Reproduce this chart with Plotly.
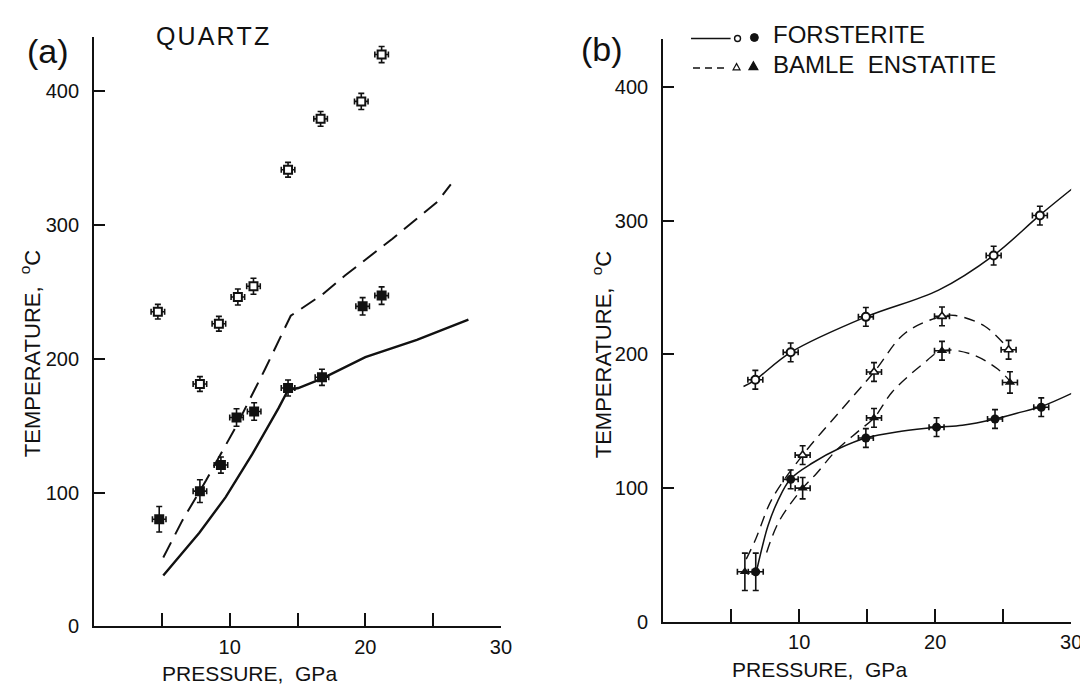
import plotly.graph_objects as go

# ---------------- data: panel (a) QUARTZ ----------------
qa_open_p = [4.7, 7.8, 9.2, 10.6, 11.75, 14.3, 16.7, 19.7, 21.2]
qa_open_t = [235, 181, 226, 246, 254, 341, 379, 392, 427]
qa_open_terr = [5.5, 5.5, 5.5, 6, 6, 5.5, 5.5, 6, 6]
qa_fill_p = [4.8, 7.8, 9.35, 10.5, 11.8, 14.3, 16.8, 19.8, 21.2]
qa_fill_t = [80, 101, 120.5, 156, 160.5, 178, 186, 239, 247]
qa_fill_terr = [9.5, 8.5, 6, 6.5, 6.5, 6, 6, 6.5, 6.5]
qa_perr = 0.5

qa_solid_p = [5.1, 7.76, 9.7, 11.66, 13.6, 14.3, 15.06, 16.8, 20.0, 23.8, 27.6]
qa_solid_t = [38, 70, 96.5, 128.6, 163, 176.5, 178, 185, 201, 214, 229]
qa_dash_p = [5.1, 6.5, 8.25, 10.4, 12.6, 13.9, 14.5, 16.8, 18.5, 22.0, 25.3, 26.3]
qa_dash_t = [51.5, 79, 109, 148, 192, 220, 232, 247.6, 262, 289.5, 317, 330]

# ---------------- data: panel (b) FORSTERITE / BAMLE ENSTATITE ----------------
fo_open_p = [6.77, 9.37, 14.9, 24.3, 27.7]
fo_open_t = [181, 201.5, 228, 273.8, 303.7]
fo_fill_p = [6.8, 9.37, 14.9, 20.1, 24.4, 27.8]
fo_fill_t = [37.5, 106.6, 137.5, 145.6, 151.7, 160.5]
fo_fill_terr = [14, 7, 7, 7, 7, 7]
en_open_p = [10.25, 15.5, 20.5, 25.4]
en_open_t = [124.7, 186.8, 228.4, 203.4]
en_fill_p = [6.0, 10.25, 15.5, 20.5, 25.5]
en_fill_t = [37.5, 100, 152.5, 202.7, 179]
en_fill_terr = [14, 8, 7, 7, 8]
b_terr = 7
b_perr = 0.55

fo_up_p = [5.9, 6.77, 9.37, 14.9, 20.25, 24.3, 27.7, 30.6]
fo_up_t = [176, 181, 201.5, 228, 248, 274, 304, 328]
fo_lo_p = [6.9, 7.3, 7.7, 8.4, 9.37, 11.0, 13.0, 14.9, 17.5, 20.1, 22.0, 24.4, 26.0, 27.8, 30.7]
fo_lo_t = [40, 57, 72, 90, 107, 119, 130, 137.5, 142.5, 145.6, 147, 151.7, 156, 161, 174]
en_up_p = [6.1, 6.8, 8.0, 10.25, 12.96, 15.5, 17.8, 20.5, 21.5, 23.65, 25.4]
en_up_t = [47, 62, 92, 124.7, 157, 186.8, 216, 228.4, 229, 221, 204]
en_lo_p = [7.6, 8.5, 10.25, 11.27, 12.7, 14.4, 15.5, 16.85, 19.0, 20.5, 22.7, 24.6, 25.5]
en_lo_t = [52, 75, 100, 111, 128, 143, 152.5, 172, 192, 202.7, 200, 189, 180]

x_tickvals = [10, 20, 30]
x_ticktext = ["10", "20", "30"]
x_minor_step = 5
y_tickvals = [0, 100, 200, 300, 400]
y_ticktext = ["0", "100", "200", "300", "400"]

INK = "#111111"
FONT = "Liberation Sans, Arial, sans-serif"
W, H = 1088, 687


def px(x):
    return x / W


def py(y):
    return 1 - y / H


fig = go.Figure()


def err(arr):
    return dict(type="data", array=arr, color=INK, thickness=1.6, width=3)


# panel (a) lines
fig.add_trace(go.Scatter(x=qa_solid_p, y=qa_solid_t, mode="lines",
                         line=dict(color=INK, width=2.4), xaxis="x", yaxis="y"))
fig.add_trace(go.Scatter(x=qa_dash_p, y=qa_dash_t, mode="lines",
                         line=dict(color=INK, width=2.0, dash="17px,9px"), xaxis="x", yaxis="y"))
# panel (a) markers
fig.add_trace(go.Scatter(x=qa_open_p, y=qa_open_t, mode="markers",
                         marker=dict(symbol="square", size=8, color="white", line=dict(width=2, color=INK)),
                         error_y=err(qa_open_terr), error_x=err([qa_perr] * len(qa_open_p)),
                         xaxis="x", yaxis="y"))
fig.add_trace(go.Scatter(x=qa_fill_p, y=qa_fill_t, mode="markers",
                         marker=dict(symbol="square", size=10, color=INK),
                         error_y=err(qa_fill_terr), error_x=err([qa_perr] * len(qa_fill_p)),
                         xaxis="x", yaxis="y"))

# panel (b) lines
fig.add_trace(go.Scatter(x=fo_up_p, y=fo_up_t, mode="lines", line=dict(color=INK, width=1.5, shape="spline"),
                         xaxis="x2", yaxis="y2"))
fig.add_trace(go.Scatter(x=fo_lo_p, y=fo_lo_t, mode="lines", line=dict(color=INK, width=1.5, shape="spline"),
                         xaxis="x2", yaxis="y2"))
fig.add_trace(go.Scatter(x=en_up_p, y=en_up_t, mode="lines",
                         line=dict(color=INK, width=1.4, shape="spline", dash="11px,7px"),
                         xaxis="x2", yaxis="y2"))
fig.add_trace(go.Scatter(x=en_lo_p, y=en_lo_t, mode="lines",
                         line=dict(color=INK, width=1.4, shape="spline", dash="11px,7px"),
                         xaxis="x2", yaxis="y2"))
# panel (b) markers
fig.add_trace(go.Scatter(x=fo_open_p, y=fo_open_t, mode="markers",
                         marker=dict(symbol="circle", size=8, color="white", line=dict(width=2, color=INK)),
                         error_y=err([b_terr] * len(fo_open_p)), error_x=err([b_perr] * len(fo_open_p)),
                         xaxis="x2", yaxis="y2"))
fig.add_trace(go.Scatter(x=fo_fill_p, y=fo_fill_t, mode="markers",
                         marker=dict(symbol="circle", size=9, color=INK),
                         error_y=err(fo_fill_terr), error_x=err([b_perr] * len(fo_fill_p)),
                         xaxis="x2", yaxis="y2"))
fig.add_trace(go.Scatter(x=en_open_p, y=en_open_t, mode="markers",
                         marker=dict(symbol="triangle-up", size=8, color="white", line=dict(width=1.6, color=INK)),
                         error_y=err([b_terr] * len(en_open_p)), error_x=err([b_perr] * len(en_open_p)),
                         xaxis="x2", yaxis="y2"))
fig.add_trace(go.Scatter(x=en_fill_p, y=en_fill_t, mode="markers",
                         marker=dict(symbol="triangle-up", size=9, color=INK),
                         error_y=err(en_fill_terr), error_x=err([b_perr] * len(en_fill_p)),
                         xaxis="x2", yaxis="y2"))

axis_common = dict(showgrid=False, zeroline=False, showline=True, linecolor=INK, linewidth=2.2,
                   ticks="inside", tickcolor=INK, tickwidth=2, mirror=False,
                   tickfont=dict(family=FONT, size=20, color=INK), fixedrange=True)

xa = dict(axis_common, range=[0, 30], tickmode="array", tickvals=x_tickvals, ticktext=x_ticktext,
          ticklen=13, ticklabelstandoff=1,
          minor=dict(ticks="inside", ticklen=13, tickwidth=2, tickcolor=INK, dtick=x_minor_step, tick0=0,
                     showgrid=False))
ya = dict(axis_common, tickmode="array", tickvals=y_tickvals, ticktext=y_ticktext, ticklen=11,
          ticklabelstandoff=9)

fig.update_layout(
    width=W, height=H, margin=dict(l=0, r=0, t=0, b=0),
    paper_bgcolor="white", plot_bgcolor="white", showlegend=False,
    xaxis=dict(xa, domain=[px(87), px(498)], anchor="y"),
    yaxis=dict(ya, range=[0, 440], domain=[py(628.5), py(29.6)], anchor="x"),
    xaxis2=dict(xa, domain=[px(662), px(1074)], anchor="y2"),
    yaxis2=dict(ya, range=[0, 436], domain=[py(624), py(31)], anchor="x2"),
)

ann = []


def text(x, y, s, size, xanchor="center", angle=0):
    ann.append(dict(x=px(x), y=py(y), xref="paper", yref="paper", text=s, showarrow=False,
                    xanchor=xanchor, yanchor="middle", textangle=angle,
                    font=dict(family=FONT, size=size, color=INK)))


text(40, 44, "(a)", 34)
text(600, 42, "(b)", 34)
text(207, 28, "Q\u200aU\u200aA\u200aR\u200aT\u200aZ", 25)
text(23, 351, "TEMPERATURE,  <sup>o</sup>C", 22, angle=-90)
text(600, 352, "TEMPERATURE,  <sup>o</sup>C", 22, angle=-90)
text(244, 676, "PRESSURE,  GPa", 21)
text(820, 672, "PRESSURE,  GPa", 21)
text(771, 27, "FORSTERITE", 24, xanchor="left")
text(771, 57, "BAMLE  ENSTATITE", 24, xanchor="left")

shapes = []
# legend glyphs (paper coordinates)
shapes.append(dict(type="line", xref="paper", yref="paper", x0=px(690), x1=px(730), y0=py(31), y1=py(31),
                   line=dict(color=INK, width=1.5)))
shapes.append(dict(type="circle", xref="paper", yref="paper", x0=px(734), x1=px(740), y0=py(34), y1=py(28),
                   line=dict(color=INK, width=1.4), fillcolor="white"))
shapes.append(dict(type="circle", xref="paper", yref="paper", x0=px(750), x1=px(758), y0=py(34), y1=py(26),
                   line=dict(color=INK, width=1), fillcolor=INK))
shapes.append(dict(type="line", xref="paper", yref="paper", x0=px(692), x1=px(728), y0=py(61), y1=py(61),
                   line=dict(color=INK, width=1.4, dash="7px,5px")))


def tri(cx, cy, s, fill):
    p = f"M {px(cx - s)} {py(cy + s * 0.8)} L {px(cx + s)} {py(cy + s * 0.8)} L {px(cx)} {py(cy - s)} Z"
    return dict(type="path", xref="paper", yref="paper", path=p, line=dict(color=INK, width=1.2), fillcolor=fill)


shapes.append(tri(736, 60, 3.5, "white"))
shapes.append(tri(753, 59, 4.5, INK))

fig.update_layout(annotations=ann, shapes=shapes)

fig.write_html("out.html")
